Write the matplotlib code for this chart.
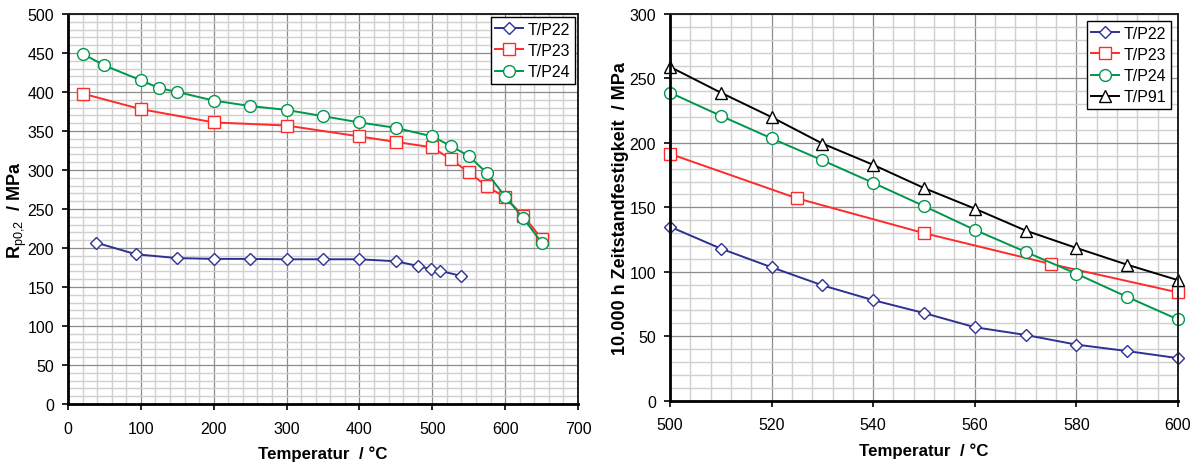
import matplotlib
matplotlib.use("Agg")
import matplotlib.pyplot as plt
from matplotlib.ticker import MultipleLocator

plt.rcParams['font.family'] = ['Liberation Sans', 'DejaVu Sans']
plt.rcParams['mathtext.fontset'] = 'custom'
plt.rcParams['mathtext.rm'] = 'Liberation Sans'
plt.rcParams['mathtext.bf'] = 'Liberation Sans:bold'

# --- left: 0.2% proof stress vs temperature
p22_t = [38, 93, 150, 200, 250, 300, 350, 400, 450, 480, 498, 510, 540]
p22_rp = [207, 192, 187, 186, 186, 185.5, 185.5, 185.5, 183, 177, 173, 171, 164]

p23_t = [20, 100, 200, 300, 400, 450, 500, 525, 550, 575, 600, 625, 650]
p23_rp = [398, 378, 361, 357, 343, 336, 329, 314, 297, 279, 265, 241, 212]

p24_t = [20, 50, 100, 125, 150, 200, 250, 300, 350, 400, 450, 500, 525, 550, 575, 600, 625, 650]
p24_rp = [449, 434, 415, 405, 400, 389, 382, 377, 369, 361, 354, 343, 331, 318, 296, 266, 238, 207]

# --- right: 10.000 h creep rupture strength
cr_t = [500, 510, 520, 530, 540, 550, 560, 570, 580, 590, 600]
cr_p22 = [135, 118, 103.5, 89.5, 78, 68, 57, 51, 43.5, 38.5, 33]
cr_p24 = [239, 221, 203.5, 186.5, 169, 151, 132.5, 115.5, 98.5, 80.5, 63]
cr_p91 = [259, 239, 220, 199.5, 183, 165, 149, 132, 118.5, 105.5, 93.5]
cr_p23_t = [500, 525, 550, 575, 600]
cr_p23 = [191.5, 157, 130, 106, 84]

series_names = ['T/P22', 'T/P23', 'T/P24', 'T/P91']

C22 = '#2e3192'
C23 = '#ff2a2a'
C24 = '#00964b'
C91 = '#000000'

sty22 = dict(color=C22, marker='D', ms=6, mfc='white', mec=C22, mew=1.0, lw=1.4)
sty23 = dict(color=C23, marker='s', ms=8.5, mfc='white', mec=C23, mew=1.0, lw=1.4)
sty24 = dict(color=C24, marker='o', ms=8.5, mfc='white', mec=C24, mew=1.0, lw=1.4)
sty91 = dict(color=C91, marker='^', ms=8.5, mfc='white', mec=C91, mew=1.0, lw=1.4)


def style_axes(ax, xmaj, xmin, ymaj, ymin):
    ax.xaxis.set_major_locator(MultipleLocator(xmaj))
    ax.xaxis.set_minor_locator(MultipleLocator(xmin))
    ax.yaxis.set_major_locator(MultipleLocator(ymaj))
    ax.yaxis.set_minor_locator(MultipleLocator(ymin))
    ax.grid(which='minor', color='#d0d0d0', lw=1.0, zorder=0)
    ax.grid(which='major', color='#8c8c8c', lw=0.9, zorder=0)
    ax.set_axisbelow(True)
    ax.tick_params(which='major', direction='out', length=4, width=1.2,
                   labelsize=11.5, pad=6, color='black')
    ax.tick_params(which='minor', length=0)
    ax.tick_params(axis='x', pad=8)
    for side in ('left', 'bottom'):
        ax.spines[side].set_linewidth(2.0)
        ax.spines[side].set_color('black')
    for side in ('top', 'right'):
        ax.spines[side].set_linewidth(1.4)
        ax.spines[side].set_color('#202020')


def add_legend(ax, pad):
    leg = ax.legend(loc='upper right', fontsize=11.5, frameon=True, fancybox=False,
                    borderpad=0.3, handlelength=1.7, handletextpad=0.3,
                    labelspacing=0.38, borderaxespad=pad)
    leg.get_frame().set_edgecolor('black')
    leg.get_frame().set_linewidth(1.0)
    leg.get_frame().set_alpha(1.0)


fig = plt.figure(figsize=(11.97, 4.64), dpi=100)
ax1 = fig.add_axes([0.0568, 0.1272, 0.4261, 0.8405])
ax2 = fig.add_axes([0.5597, 0.1343, 0.4244, 0.8334])

ax1.plot(p22_t, p22_rp, label=series_names[0], **sty22)
ax1.plot(p23_t, p23_rp, label=series_names[1], **sty23)
ax1.plot(p24_t, p24_rp, label=series_names[2], **sty24)
ax1.set_xlim(0, 700)
ax1.set_ylim(0, 500)
style_axes(ax1, 100, 20, 50, 10)
ax1.set_xlabel('Temperatur  / °C', fontsize=12.2, fontweight='bold', labelpad=7)
ax1.set_ylabel(r'$\mathbf{R}_{\mathrm{p0{,}2}}$  / MPa', fontsize=13, fontweight='bold', labelpad=-1)
add_legend(ax1, 0.2)

ax2.plot(cr_t, cr_p22, label=series_names[0], **sty22)
ax2.plot(cr_p23_t, cr_p23, label=series_names[1], **sty23)
ax2.plot(cr_t, cr_p24, label=series_names[2], **sty24)
ax2.plot(cr_t, cr_p91, label=series_names[3], **sty91)
ax2.set_xlim(500, 600)
ax2.set_ylim(0, 300)
style_axes(ax2, 20, 4, 50, 10)
ax2.set_xlabel('Temperatur  / °C', fontsize=12.2, fontweight='bold', labelpad=7)
ax2.set_ylabel('10.000 h Zeitstandfestigkeit  / MPa', fontsize=13, fontweight='bold', labelpad=0)
add_legend(ax2, 0.45)

for ax in (ax1, ax2):
    for line in ax.lines:
        line.set_clip_on(False)

fig.savefig('out.png', dpi=100)
